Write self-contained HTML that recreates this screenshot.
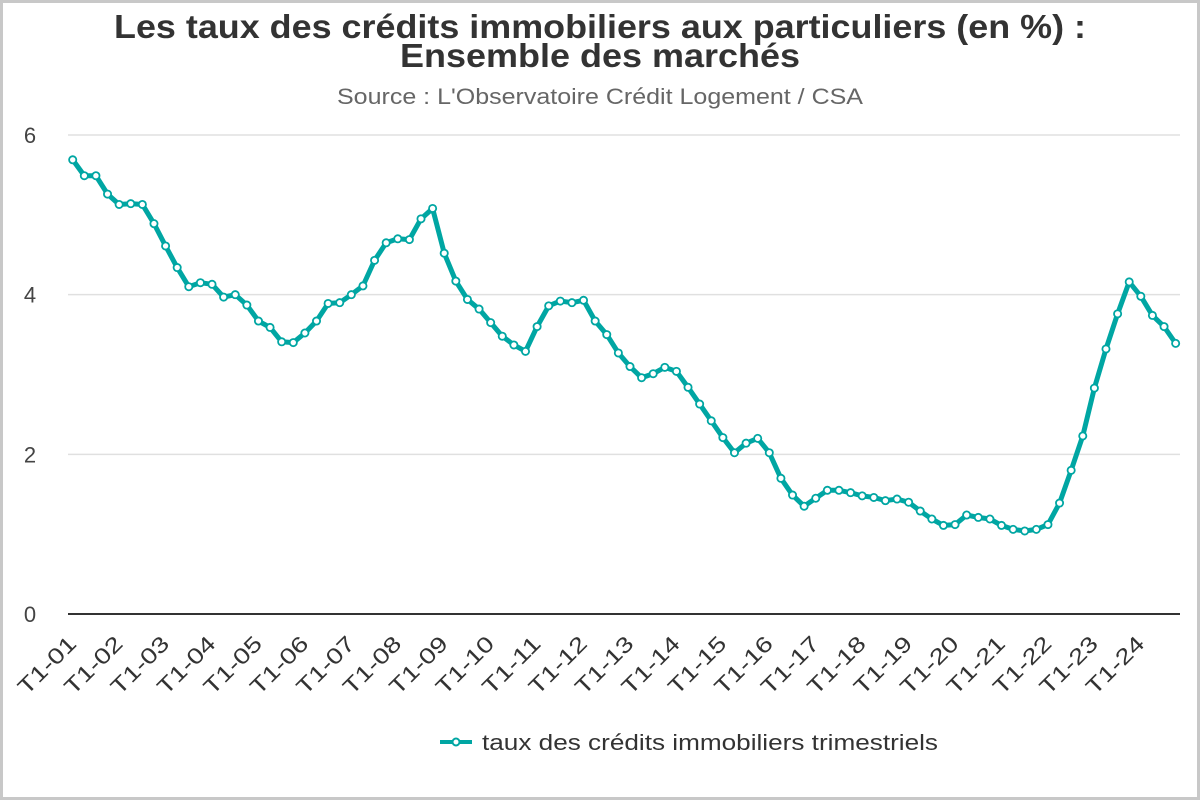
<!DOCTYPE html>
<html><head><meta charset="utf-8">
<style>
html,body{margin:0;padding:0;background:#fff;}
#wrap{position:relative;width:1200px;height:800px;box-sizing:border-box;border:3px solid #c8c8c8;background:#fff;font-family:"Liberation Sans",sans-serif;}
svg{position:absolute;left:0;top:0;}
</style></head>
<body>
<div id="wrap"></div>
<svg id="chart" width="1200" height="800" font-family="Liberation Sans, sans-serif">
  <text x="600" y="38" text-anchor="middle" font-size="33" font-weight="bold" fill="#333" textLength="972" lengthAdjust="spacingAndGlyphs">Les taux des crédits immobiliers aux particuliers (en %) :</text>
  <text x="600" y="67" text-anchor="middle" font-size="33" font-weight="bold" fill="#333" textLength="400" lengthAdjust="spacingAndGlyphs">Ensemble des marchés</text>
  <text x="600" y="104" text-anchor="middle" font-size="22" fill="#666" textLength="526" lengthAdjust="spacingAndGlyphs">Source : L'Observatoire Crédit Logement / CSA</text>
  <g id="grid"></g>
  <g id="xlabels"></g>
  <g id="series"></g>
  <g>
    <line x1="440" y1="742" x2="472" y2="742" stroke="#00a6a3" stroke-width="4"/>
    <circle cx="456" cy="742" r="3.5" fill="#fff" stroke="#00a6a3" stroke-width="2"/>
    <text x="482" y="750" font-size="22" fill="#333" textLength="456" lengthAdjust="spacingAndGlyphs">taux des crédits immobiliers trimestriels</text>
  </g>
</svg>
<script>
const yTicks=[0,2,4,6];
const xTickLabels=["T1-01","T1-02","T1-03","T1-04","T1-05","T1-06","T1-07","T1-08","T1-09","T1-10","T1-11","T1-12","T1-13","T1-14","T1-15","T1-16","T1-17","T1-18","T1-19","T1-20","T1-21","T1-22","T1-23","T1-24"];
const rates=[5.69,5.49,5.49,5.26,5.13,5.14,5.13,4.89,4.61,4.34,4.10,4.15,4.13,3.97,4.00,3.87,3.67,3.59,3.41,3.40,3.52,3.67,3.89,3.90,4.00,4.11,4.43,4.65,4.70,4.69,4.95,5.08,
4.52,4.17,3.94,3.82,3.65,3.48,3.37,3.29,3.60,3.86,3.92,3.90,3.93,3.67,3.50,3.27,3.10,2.96,3.01,3.09,3.04,2.84,2.63,2.42,2.21,2.02,2.14,2.20,2.02,1.70,1.49,
1.35,1.45,1.55,1.55,1.52,1.48,1.46,1.42,1.44,1.40,1.29,1.19,1.11,1.12,1.24,1.21,1.19,1.11,1.06,1.04,1.06,1.12,1.39,1.80,2.23,2.83,3.32,3.76,4.16,3.98,3.74,3.60,3.39];
const NS='http://www.w3.org/2000/svg';
const x0=72.7, dx=11.61, y0=614, ky=79.83;
const X=i=>x0+i*dx, Y=v=>y0-v*ky;
function mk(tag,attrs,parent){const e=document.createElementNS(NS,tag);for(const k in attrs)e.setAttribute(k,attrs[k]);parent.appendChild(e);return e;}
const grid=document.getElementById('grid');
yTicks.forEach(v=>{
  const l=mk('line',{x1:68,x2:1180,y1:Y(v),y2:Y(v),stroke:v===0?'#333':'#e0e0e0','stroke-width':v===0?2:1.5},grid);
  
  
  const t=mk('text',{x:30,y:Y(v)+8,'text-anchor':'middle','font-size':22,fill:'#444'},grid);
  t.textContent=v;
  
  
});
const xl=document.getElementById('xlabels');
xTickLabels.forEach((s,k)=>{
  const x=X(k*4)+5, y=645;
  const t=mk('text',{x:x,y:y,'text-anchor':'end','font-size':22,fill:'#333',textLength:72,lengthAdjust:'spacingAndGlyphs',transform:`rotate(-45 ${x} ${y})`},xl);
  t.textContent=s;
  
  
});
const g=document.getElementById('series');
const path=mk('polyline',{points:rates.map((v,i)=>X(i)+','+Y(v)).join(' '),fill:'none',stroke:'#00a6a3','stroke-width':5,'stroke-linejoin':'round'},g);


rates.forEach((v,i)=>{
  const c=mk('circle',{cx:X(i),cy:Y(v),r:3.6,fill:'#fff',stroke:'#00a6a3','stroke-width':1.8},g);
  
  
});
</script>
</body></html>
